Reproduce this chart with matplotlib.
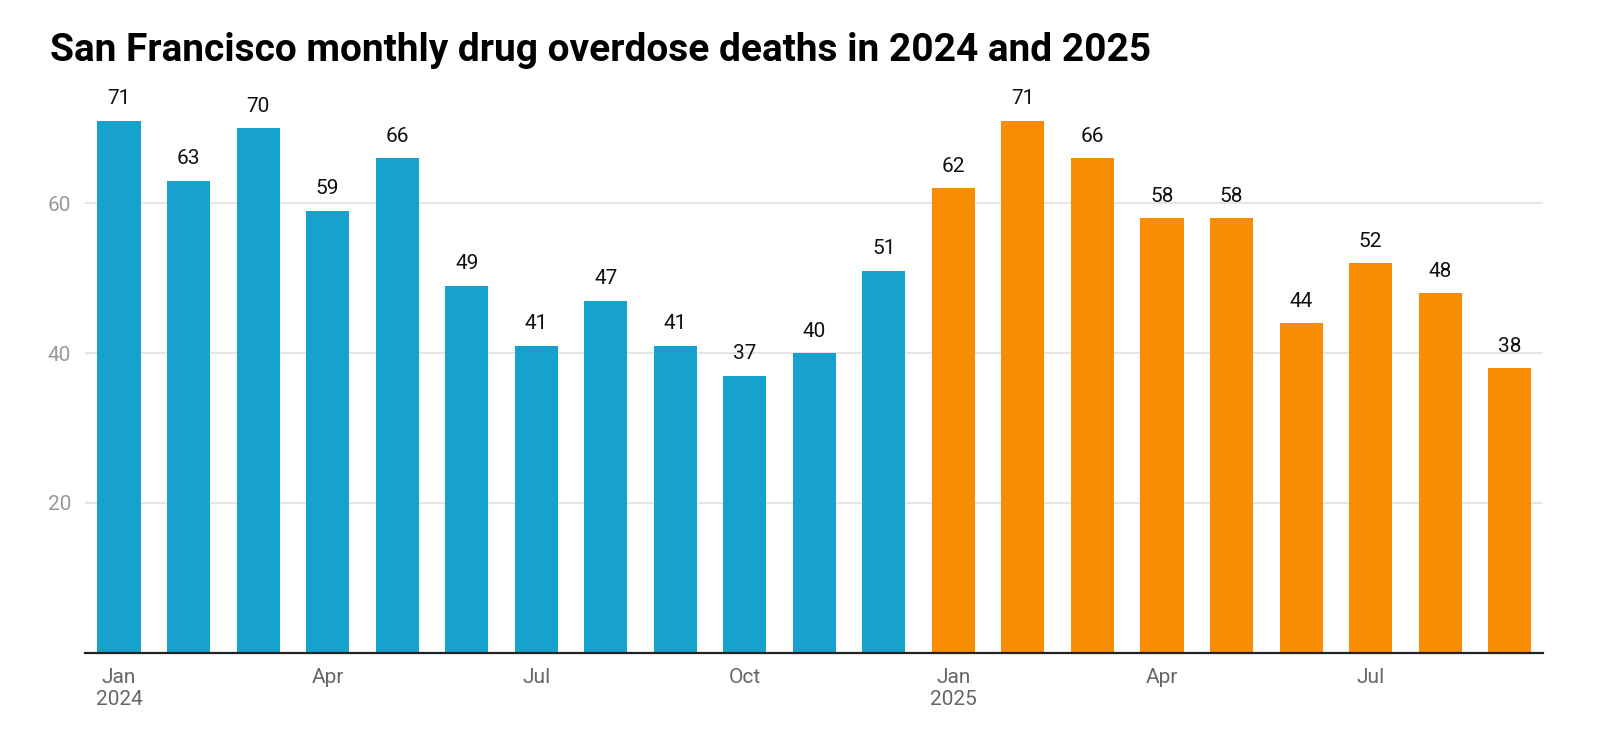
import matplotlib
matplotlib.use("Agg")
import matplotlib.pyplot as plt
import numpy as np

plt.rcParams["font.family"] = ["Roboto", "DejaVu Sans"]

# Monthly overdose deaths, San Francisco
deaths_2024 = [71, 63, 70, 59, 66, 49, 41, 47, 41, 37, 40, 51]
deaths_2025 = [62, 71, 66, 58, 58, 44, 52, 48, 38]
tick_idx = [0, 3, 6, 9, 12, 15, 18]
tick_labels = ["Jan\n2024", "Apr", "Jul", "Oct", "Jan\n2025", "Apr", "Jul"]
y_ticks = [20, 40, 60]

BLUE = "#17a1cd"
ORANGE = "#f88d03"

values = deaths_2024 + deaths_2025
colors = [BLUE] * len(deaths_2024) + [ORANGE] * len(deaths_2025)
x = np.arange(len(values))

fig = plt.figure(figsize=(16, 7.41), dpi=100)
ax = fig.add_axes([0.0531, 0.1188, 0.9113, 0.759])

bars = ax.bar(x, values, width=0.62, color=colors, zorder=2)
for xi, v in zip(x, values):
    ax.annotate(str(v), xy=(xi, v), xytext=(0, 9), textcoords="offset points",
                ha="center", va="bottom", fontsize=15, color="#111111")

ax.set_xlim(-0.49, len(values) - 0.52)
ax.set_ylim(0, 75)
ax.set_yticks(y_ticks)
ax.set_xticks(tick_idx)
ax.set_xticklabels(tick_labels, linespacing=1.2)
ax.tick_params(axis="x", length=0, pad=11, labelsize=15, labelcolor="#666666")
ax.tick_params(axis="y", length=0, pad=10, labelsize=15, labelcolor="#999999")
ax.grid(axis="y", color="#e3e3e3", lw=1.3, zorder=0)
for s in ("top", "right", "left"):
    ax.spines[s].set_visible(False)
ax.spines["bottom"].set_color("#222222")
ax.spines["bottom"].set_linewidth(1.6)
ax.spines["bottom"].set_zorder(3)

fig.text(0.031, 0.918, "San Francisco monthly drug overdose deaths in 2024 and 2025",
         fontsize=28, fontweight="bold", color="#000000", ha="left", va="baseline")

fig.savefig("out.png", dpi=100, facecolor="white")
